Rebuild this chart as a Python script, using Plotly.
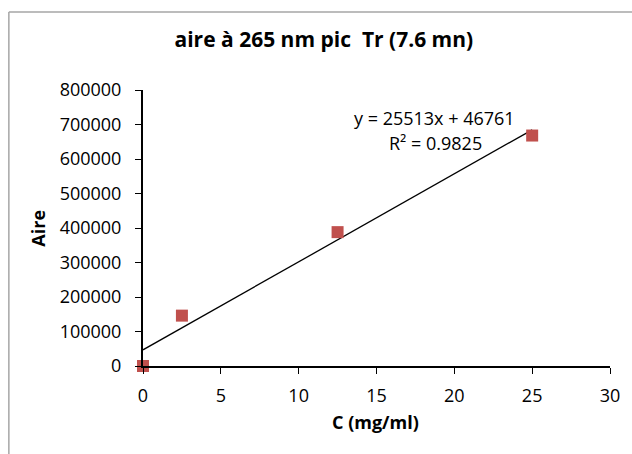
import plotly.graph_objects as go

# Data
conc = [0, 2.5, 12.5, 25]
aire = [0, 146000, 388000, 668000]
slope = 25513
intercept = 46761
r2 = 0.9825
x_ticks = [0, 5, 10, 15, 20, 25, 30]
y_ticks = [0, 100000, 200000, 300000, 400000, 500000, 600000, 700000, 800000]

W, H = 632, 454
L, R, T, B = 143, 19, 90, 88
PW, PH = W - L - R, H - T - B

def px(x):
    return (x - L) / PW

def py(y):
    return (H - B - y) / PH

fit_x = [min(conc), max(conc)]
fit_y = [slope * v + intercept for v in fit_x]

font = "Open Sans"
FS = 18

def ann(text, x, y, angle=0):
    return dict(text=text, x=px(x), y=py(y), xref="paper", yref="paper",
                xanchor="center", yanchor="middle", textangle=angle,
                showarrow=False, font=dict(size=FS))

fig = go.Figure()
fig.add_trace(go.Scatter(x=fit_x, y=fit_y, mode="lines",
                         line=dict(color="black", width=1.3),
                         showlegend=False, hoverinfo="skip"))
fig.add_trace(go.Scatter(x=conc, y=aire, mode="markers",
                         marker=dict(symbol="square", size=12, color="#C0504D",
                                     line=dict(width=0)),
                         cliponaxis=False, showlegend=False))

fig.update_layout(
    width=W, height=H,
    margin=dict(l=L, r=R, t=T, b=B),
    paper_bgcolor="white", plot_bgcolor="white",
    font=dict(family=font, size=FS, color="black"),
    title=dict(text="<b>aire à 265 nm pic  Tr (7.6 mn)</b>", x=px(325), xref="paper",
               xanchor="center", y=1 - 40 / H, yanchor="middle",
               font=dict(family=font, size=21, color="black")),
    xaxis=dict(range=[0, 30], tickvals=x_ticks, showgrid=False, zeroline=False,
               showline=True, linecolor="black", linewidth=2,
               ticks="outside", ticklen=6, tickcolor="black", tickwidth=1.3,
               ticklabelstandoff=6, tickfont=dict(size=FS)),
    yaxis=dict(range=[0, 800000], tickvals=y_ticks, tickformat="d", showgrid=False,
               zeroline=False, showline=True, linecolor="black", linewidth=2,
               ticks="outside", ticklen=6, tickcolor="black", tickwidth=1.3,
               ticklabelstandoff=10, tickfont=dict(size=FS)),
    annotations=[
        ann("<b>Aire</b>", 37, 228, -90),
        ann("<b>C (mg/ml)</b>", 377, 422),
        ann(f"y = {slope}x + {intercept}", 436, 118),
        ann(f"R² = {r2}", 437, 143),
    ],
    shapes=[
        dict(type="line", xref="paper", yref="paper", x0=px(8), x1=px(8),
             y0=py(H + 5), y1=py(12), line=dict(color="#A6A6A6", width=1.5)),
        dict(type="line", xref="paper", yref="paper", x0=px(8), x1=px(W + 5),
             y0=py(12), y1=py(12), line=dict(color="#A6A6A6", width=1.5)),
    ],
)

fig.write_html("out.html")
